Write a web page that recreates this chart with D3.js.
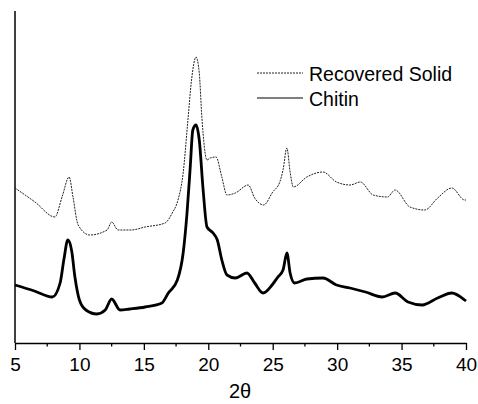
<!DOCTYPE html>
<html>
<head>
<meta charset="utf-8">
<script src="https://cdn.jsdelivr.net/npm/d3@7"></script>
<style>
  body { margin: 0; background: #fff; }
  svg text { font-family: Arial, "Liberation Sans", sans-serif; fill: #000; }
</style>
</head>
<body>
<div id="chart"></div>
<script>
// 2-theta positions and intensities (arbitrary units)
const chitinTheta = [5, 6.5, 7.9, 8.5, 8.8, 9.1, 9.4, 9.65, 10, 10.5, 11.35, 12, 12.5, 13.15, 13.9, 15.1, 16.4, 16.9, 17.6, 18.05, 18.35, 18.6, 18.8, 19.05, 19.3, 19.6, 19.9, 20.37, 20.7, 21.05, 21.45, 22.1, 23, 23.6, 24.25, 24.95, 25.4, 25.8, 26.1, 26.35, 26.7, 27.65, 28.9, 29.95, 31, 32.2, 33.5, 34.5, 35.5, 36.6, 37.8, 38.9, 39.9, 40]
const chitinValues = [58, 52, 46, 60, 84, 103, 92, 66, 43, 33, 29, 33, 44, 33, 34, 36, 40, 50, 63, 90, 130, 176, 213, 218, 203, 153, 116, 110, 103, 83, 68, 65, 70, 60, 50, 58, 66, 73, 90, 70, 60, 64, 65, 58, 55, 51, 46, 50, 41, 38, 45, 50, 43, 42]

const recoveredTheta = [5, 6.55, 8.1, 8.65, 9.2, 9.5, 9.9, 10.8, 12.15, 12.5, 13, 14, 15.1, 16.65, 17.2, 17.65, 18.05, 18.4, 18.7, 19.05, 19.3, 19.5, 19.9, 20.15, 20.6, 21.05, 21.45, 22.1, 23.1, 23.6, 24.3, 25, 25.55, 25.8, 26.1, 26.35, 26.6, 27.65, 28.9, 29.95, 31, 31.8, 32.8, 33.9, 34.5, 35.65, 36.8, 37.8, 38.9, 39.9, 40]
const recoveredValues = [155, 141, 126, 146, 166, 146, 118, 108, 113, 121, 113, 113, 116, 120, 130, 143, 170, 220, 263, 286, 270, 226, 183, 185, 186, 166, 148, 150, 158, 145, 138, 151, 161, 173, 195, 171, 156, 166, 171, 161, 158, 161, 148, 146, 153, 136, 133, 145, 155, 143, 143]

const xTicks = [5, 10, 15, 20, 25, 30, 35, 40]
const xMinorTicks = [7.5, 12.5, 17.5, 22.5, 27.5, 32.5, 37.5]

const W = 478, H = 404
const svg = d3.select('#chart').append('svg')
  .attr('width', W).attr('height', H)

const x = d3.scaleLinear().domain([5, 40]).range([15, 466])
const y = d3.scaleLinear().domain([0, 332]).range([343, 11])

// X AXIS
const xAxis = svg.append('g')
  .attr('transform', `translate(0,${y(0)})`)
  .call(d3.axisBottom(x).tickValues(xTicks).tickSize(7).tickSizeOuter(0).tickPadding(8))
xAxis.select('.domain').attr('stroke', '#000').attr('stroke-width', 1.3)
xAxis.selectAll('.tick line').attr('stroke-width', 1.3)
xAxis.selectAll('text').style('font-size', '19px')

svg.append('g')
  .attr('transform', `translate(0,${y(0)})`)
  .selectAll('line').data(xMinorTicks).join('line')
  .attr('x1', d => x(d)).attr('x2', d => x(d))
  .attr('y1', 0).attr('y2', 3.5)
  .attr('stroke', '#000').attr('stroke-width', 1.3)

// Y AXIS (plain line, no ticks)
svg.append('line')
  .attr('x1', x(5)).attr('x2', x(5))
  .attr('y1', y(332)).attr('y2', y(0))
  .attr('stroke', '#000').attr('stroke-width', 1.5)

svg.append('text')
  .attr('x', 240).attr('y', 398)
  .attr('text-anchor', 'middle')
  .style('font-size', '20px')
  .text('2θ')

// LINES
const line = d3.line()
  .x(d => x(d[0]))
  .y(d => y(d[1]))
  .curve(d3.curveMonotoneX)

svg.append('path')
  .datum(d3.zip(recoveredTheta, recoveredValues))
  .attr('d', line)
  .attr('fill', 'none')
  .attr('stroke', '#222')
  .attr('stroke-width', 1)
  .attr('stroke-dasharray', '2,1')

svg.append('path')
  .datum(d3.zip(chitinTheta, chitinValues))
  .attr('d', line)
  .attr('fill', 'none')
  .attr('stroke', '#000')
  .attr('stroke-width', 2.8)
  .attr('stroke-linejoin', 'round')

// LEGEND
const legend = svg.append('g')
legend.append('line')
  .attr('x1', 257).attr('x2', 303).attr('y1', 73).attr('y2', 73)
  .attr('stroke', '#222').attr('stroke-width', 1).attr('stroke-dasharray', '2,1')
legend.append('text')
  .attr('x', 309).attr('y', 80.5)
  .style('font-size', '19.5px')
  .text('Recovered Solid')
legend.append('line')
  .attr('x1', 257).attr('x2', 303).attr('y1', 98).attr('y2', 98)
  .attr('stroke', '#000').attr('stroke-width', 1.2)
legend.append('text')
  .attr('x', 309).attr('y', 105.5)
  .style('font-size', '19.5px')
  .text('Chitin')
</script>
</body>
</html>
